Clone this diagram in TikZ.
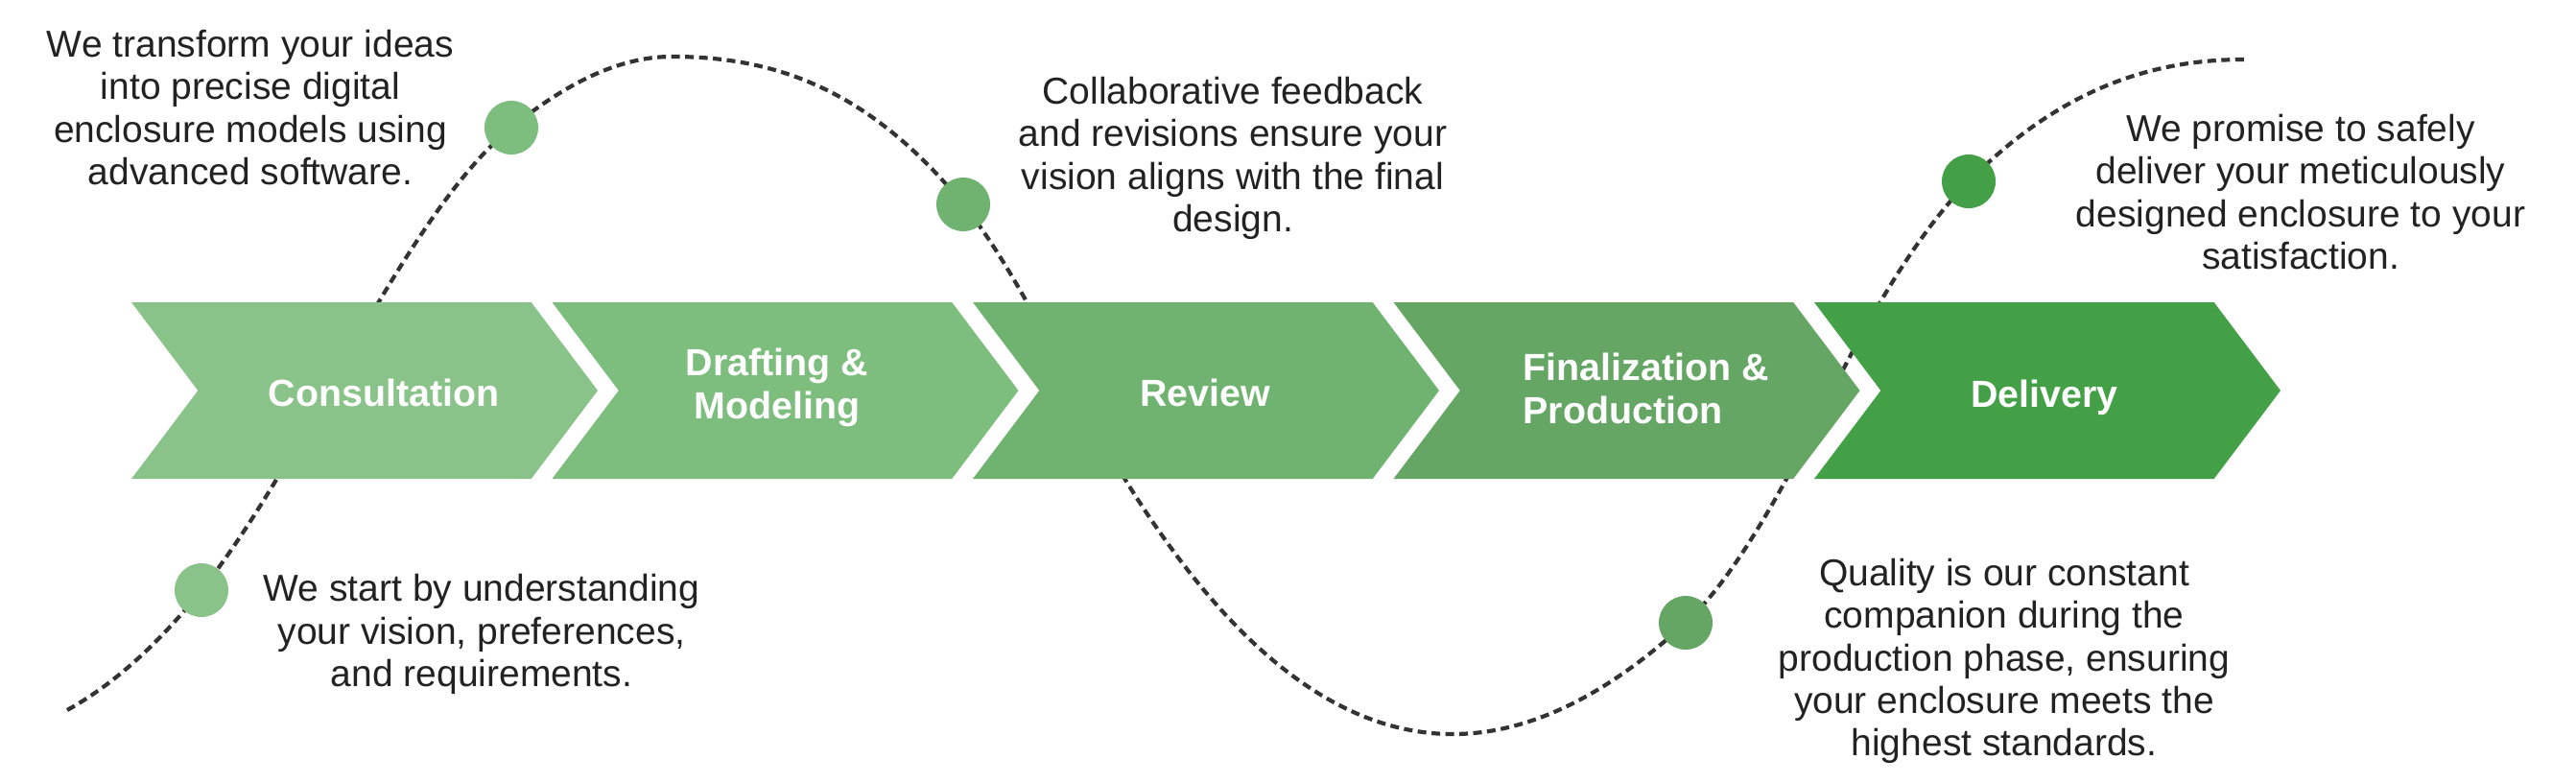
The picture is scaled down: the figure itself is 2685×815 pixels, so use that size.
\documentclass[tikz,border=0pt]{standalone}
\usepackage{fontspec}
\setmainfont{Liberation Sans}
\usepackage{tikz}
\usetikzlibrary{shapes.symbols,positioning}
\definecolor{stepone}{RGB}{137,195,137}
\definecolor{steptwo}{RGB}{125,189,125}
\definecolor{stepthree}{RGB}{112,179,112}
\definecolor{stepfour}{RGB}{101,166,101}
\definecolor{stepfive}{RGB}{67,160,71}
\definecolor{mytext}{RGB}{34,34,34}
\definecolor{mytrail}{RGB}{51,51,51}
\tikzstyle{stage}=[signal,signal to=east,signal from=west,signal pointer angle=106,minimum width=48.6mm,minimum height=18.4mm,inner sep=0pt]
\tikzstyle{stagetext}=[text=white,font=\bfseries\fontsize{11.2}{12.8}\selectfont,align=center,inner sep=0pt]
\tikzstyle{dot}=[circle,minimum size=5.6mm,inner sep=0pt]
\tikzstyle{note}=[text=mytext,font=\fontsize{11.1}{12.6}\selectfont,align=center]
\tikzstyle{trail}=[draw=mytrail,line width=0.42mm,dash pattern=on 0.9mm off 0.55mm]

\begin{document}
\begin{tikzpicture}[x=0.1mm,y=-0.1mm]
\useasboundingbox (0,0) rectangle (2685,815);
% points where the dots sit
\coordinate (p1) at (210,615);
\coordinate (p2) at (533,133);
\coordinate (p3) at (1004,213);
\coordinate (p4) at (1757,649);
\coordinate (p5) at (2052,189);
% turning points of the wave
\coordinate (w0) at (70,740);
\coordinate (w1) at (340,410);
\coordinate (w2) at (700,59);
\coordinate (w3) at (1120,407);
\coordinate (w4) at (1514,765);
\coordinate (w5) at (1910,407);
\coordinate (w6) at (2339,62);
\draw[trail] (w0) .. controls (116.7,714.3) and (163.3,673.3) .. (p1)
  .. controls (253.3,560.8) and (296.7,487.1) .. (w1)
  .. controls (404.3,295.5) and (468.7,185.1) .. (p2)
  .. controls (588.7,87.9) and (644.3,59) .. (w2)
  .. controls (801.3,59) and (902.7,88.3) .. (p3)
  .. controls (1042.7,260.6) and (1081.3,333.5) .. (w3)
  .. controls (1251.3,656.5) and (1382.7,765) .. (w4)
  .. controls (1595,765) and (1676,723.5) .. (p4)
  .. controls (1808,602.1) and (1859,509) .. (w5)
  .. controls (1957.3,312.3) and (2004.7,236.8) .. (p5)
  .. controls (2147.7,92.4) and (2243.3,62) .. (w6);
% the five stages
\draw (380,407) node [stage,fill=stepone] (s1) {};
\draw (818.5,407) node [stage,fill=steptwo] (s2) {};
\draw (1257,407) node [stage,fill=stepthree] (s3) {};
\draw (1695.5,407) node [stage,fill=stepfour] (s4) {};
\draw (2134,407) node [stage,fill=stepfive] (s5) {};
\node [stagetext] (l1) at (400,409) {Consultation};
\node [stagetext] (l2) at (810,404) {Drafting \&\\Modeling};
\node [stagetext] (l3) at (1256,409) {Review};
\node [stagetext,align=left,anchor=west] (l4) at (1587,405) {Finalization \&\\Production};
\node [stagetext,text depth=0pt] (l5) at (2131,410) {Delivery};
\node [dot,fill=stepone] (d1) at (p1) {};
\node [dot,fill=steptwo] (d2) at (p2) {};
\node [dot,fill=stepthree] (d3) at (p3) {};
\node [dot,fill=stepfour] (d4) at (p4) {};
\node [dot,fill=stepfive] (d5) at (p5) {};
\node [note] (t1) at (502,661) {We start by understanding\\your vision, preferences,\\and requirements.};
\node [note] (t2) at (261,112) {We transform your ideas\\into precise digital\\enclosure models using\\advanced software.};
\node [note] (t3) at (1285,165) {Collaborative feedback\\and revisions ensure your\\vision aligns with the final\\design.};
\node [note] (t4) at (2089,689) {Quality is our constant\\companion during the\\production phase, ensuring\\your enclosure meets the\\highest standards.};
\node [note] (t5) at (2398,200) {We promise to safely\\deliver your meticulously\\designed enclosure to your\\satisfaction.};
\end{tikzpicture}
\end{document}
